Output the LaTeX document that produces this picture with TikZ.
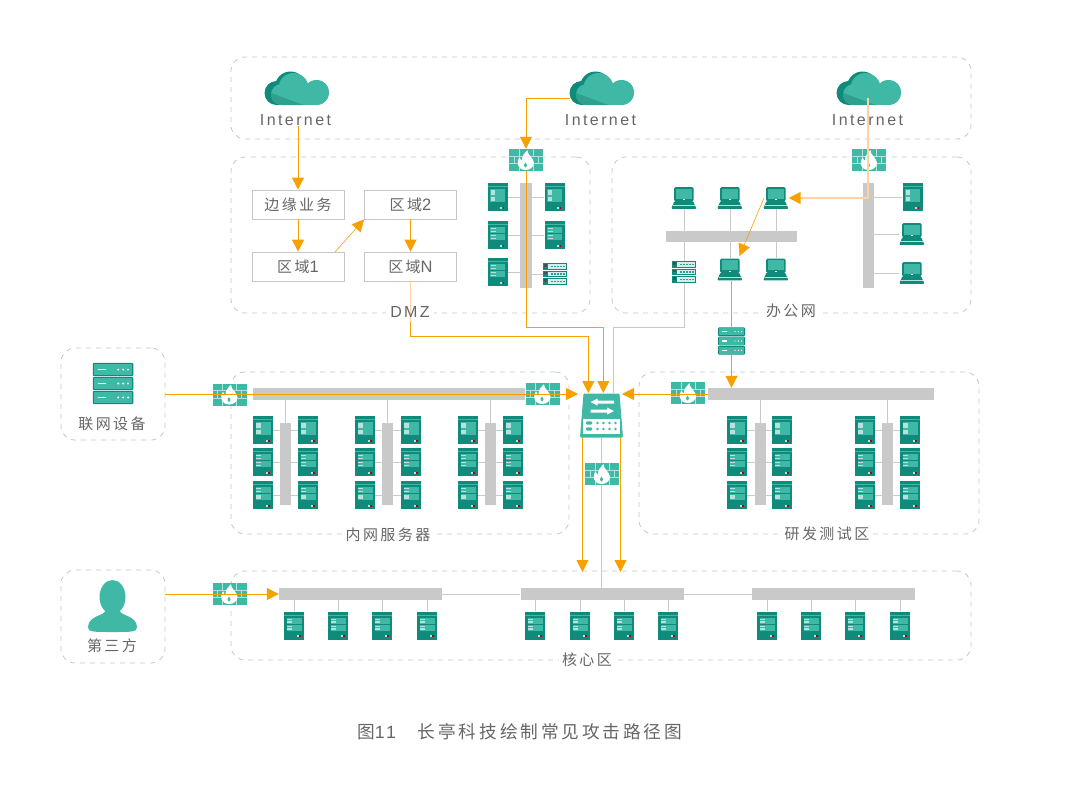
\documentclass[tikz,border=0pt]{standalone}
\usepackage{fontspec}
\usetikzlibrary{arrows.meta}
\newfontfamily\cjkfont[LetterSpace=16]{Noto Sans CJK SC}
\newfontfamily\latinfont[LetterSpace=15]{Liberation Sans}
\definecolor{tealmain}{HTML}{40B8A6}
\definecolor{tealdark}{HTML}{0F8A7B}
\definecolor{tealmid}{HTML}{2FA090}
\definecolor{tealpale}{HTML}{B8E0DC}
\definecolor{barcolor}{HTML}{C8C9C8}
\definecolor{dashcolor}{HTML}{C6C6C6}
\definecolor{attackcolor}{HTML}{F7A100}
\definecolor{attackpale}{HTML}{FDD3A3}
\definecolor{textgray}{HTML}{666666}
\newcommand{\digitfont}{\latinfont\fontsize{16.5}{18}\selectfont}
\tikzset{
  zone/.style={draw=dashcolor,line width=.8pt,dash pattern=on 5pt off 5pt,rounded corners=14pt,inner sep=0pt},
  zonetitle/.style={fill=white,inner sep=3pt,text=textgray,font=\cjkfont\fontsize{15}{18}\selectfont},
  netlabel/.style={inner sep=0pt,text=textgray,font=\latinfont\fontsize{16}{18}\selectfont},
  areabox/.style={draw=dashcolor,line width=.8pt,minimum width=92pt,minimum height=29pt,inner sep=0pt,text=textgray,font=\cjkfont\fontsize{15}{18}\selectfont},
  bar/.style={fill=barcolor,inner sep=0pt},
  link/.style={draw=barcolor,line width=.9pt},
  attack/.style={draw=attackcolor,line width=1pt},
  thinattack/.style={draw=attackcolor,line width=.6pt},
  paleattack/.style={draw=attackpale,line width=1.8pt},
  srvnode/.style={inner sep=0pt,minimum width=20pt,minimum height=28pt},
  lapnode/.style={inner sep=0pt,minimum width=25pt,minimum height=22pt},
  racknode/.style={inner sep=0pt,minimum width=24pt,minimum height=22pt},
  fwnode/.style={inner sep=0pt,minimum width=34pt,minimum height=22pt},
  % 服务器
  srvbody/.pic={
    \fill[tealdark] (-10,-14) rectangle (10,14);
    \fill[tealmain] (-10,-10.8) rectangle (10,-10);
    \fill[tealpale] (2.5,9.8) rectangle (4.5,11.6);
    \fill[red!70!black] (5,9.8) rectangle (6.8,11.6);
  },
  server/.pic={
    \pic {srvbody};
    \fill[tealmain] (-7.5,-8) rectangle (7.5,5);
    \fill[tealpale] (-6.8,-6.7) rectangle (-2.2,-2.3);
    \fill[tealpale] (-6.8,-.3) rectangle (-2.2,3.7);
  },
  serverb/.pic={
    \pic {srvbody};
    \fill[tealmain] (-7.5,-8) rectangle (7.5,-2);
    \fill[tealmain] (-7.5,-1) rectangle (7.5,5);
    \foreach \ly in {-7,-4.2,0,2.8} \fill[tealpale] (-6.8,\ly) rectangle (-2,\ly+1.3);
  },
  serverc/.pic={
    \pic {srvbody};
    \fill[tealmain] (-7.5,-8) rectangle (7.5,-2);
    \fill[tealmain] (-7.5,-1) rectangle (7.5,5);
    \foreach \ly in {-7,-4.2} \fill[tealpale] (-6.8,\ly) rectangle (-2,\ly+1.3);
    \fill[tealpale] (-6.8,0) rectangle (-2.2,4);
  },
  % 笔记本
  laptop/.pic={
    \fill[tealdark,rounded corners=1.5pt] (-10,-11) rectangle (9.5,3.5);
    \fill[tealmain] (-8.3,-9.2) rectangle (7.8,0.6);
    \fill[white] (-1.2,1.2) rectangle (.8,2.2);
    \fill[tealdark,rounded corners=1pt] (-9.5,3) -- (9,3) -- (12.5,10.8) -- (-12.8,10.8) -- cycle;
    \fill[tealpale] (-11,7.4) rectangle (10.8,8.2);
  },
  % 小机架
  rack/.pic={
    \foreach \ry in {-7.5,0,7.5} {
      \fill[tealdark] (-12,\ry-3.2) rectangle (12,\ry+3.2);
      \fill[tealpale!60] (-7,\ry-2.2) rectangle (11,\ry+2.2);
      \foreach \dx in {-4,-1,2,5,8} \fill[tealmid] (\dx,\ry-.8) rectangle (\dx+1.6,\ry+.8);
      \fill[black!70] (-11,\ry-2.2) rectangle (-8,\ry);
    }
  },
  % 三层设备
  stack/.pic={
    \foreach \ry in {-9.3,0,9.3} {
      \fill[tealdark,rounded corners=1pt] (-13.5,\ry-4.4) rectangle (13.5,\ry+4.4);
      \fill[tealmain] (-12.7,\ry-3.6) rectangle (12.7,\ry+3.6);
      \fill[white] (-10,\ry-.6) rectangle (-4.5,\ry+.6);
      \foreach \dx in {3.5,6.8,10} \fill[white] (\dx,\ry) circle (.7);
    }
  },
  % 防火墙
  firewall/.pic={
    \fill[tealmain] (-17,-11) rectangle (17,11);
    \draw[tealpale,line width=.8pt] (-17,-3.7) -- (17,-3.7) (-17,3.7) -- (17,3.7);
    \draw[tealpale,line width=.8pt] (-7,-11) -- (-7,-3.7) (7,-11) -- (7,-3.7) (-12,-3.7) -- (-12,3.7) (12,-3.7) -- (12,3.7) (-7,3.7) -- (-7,11) (7,3.7) -- (7,11);
    \fill[white] (0,10) .. controls (-9,10) and (-10,2) .. (-6.5,-3) .. controls (-6,-.5) and (-4.5,.5) .. (-4,.5) .. controls (-4.5,-4) and (-1,-7) .. (1.5,-10) .. controls (1,-5) and (8,-2) .. (8,3) .. controls (8,7) and (4,10) .. (0,10) -- cycle;
    \fill[tealmain] (-.5,7.5) .. controls (-2.5,7.5) and (-2.5,5) .. (-.5,2.5) .. controls (1.5,5) and (1.5,7.5) .. (-.5,7.5) -- cycle;
  },
  % 云
  cloud/.pic={
    \fill[tealdark] (-20,4) circle (12);
    \fill[tealdark] (-6,-2) circle (15.5);
    \fill[tealdark] (20,3.5) circle (12.5);
    \fill[tealdark] (-20,6) rectangle (20,16);
    \fill[tealmain] (-15,5.5) circle (10.5);
    \fill[tealmain] (-3,-1) circle (15);
    \fill[tealmain] (20,3.5) circle (12.5);
    \fill[tealmain] (-15,6) rectangle (20,16);
    \fill[tealmid] (-25.5,4) .. controls (-26,12) and (-20,16) .. (-14,16) -- (7,16) -- cycle;
  },
  % 交换机
  switch/.pic={
    \fill[tealmain,rounded corners=1pt] (-18,-22) -- (18,-22) -- (21.5,22) -- (-21.5,22) -- cycle;
    \fill[white] (-11,-13.5) -- (-4,-17) -- (-4,-15) -- (12.5,-15) -- (12.5,-12) -- (-4,-12) -- (-4,-10) -- cycle;
    \fill[white] (12.5,-4.5) -- (5.5,-8) -- (5.5,-6) -- (-11,-6) -- (-11,-3) -- (5.5,-3) -- (5.5,-1) -- cycle;
    \fill[white] (-18.5,3) rectangle (18.5,18.5);
    \foreach \ry in {7.5,13.5} {
      \fill[tealmain,rounded corners=1pt] (-15.5,\ry-1.6) rectangle (-9.5,\ry+1.6);
      \foreach \dx in {-4,2,8,14} \fill[tealmain] (\dx,\ry) circle (1.4);
    }
  },
  % 人像
  person/.pic={
    \fill[tealmain] (0,-9) ellipse (13 and 17);
    \fill[tealmain] (-7,4) .. controls (-7,10) and (-24,9) .. (-24.5,21) .. controls (-24.5,26) and (-20,26) .. (0,26) .. controls (20,26) and (24.5,26) .. (24.5,21) .. controls (24,9) and (7,10) .. (7,4) -- cycle;
  },
}
\begin{document}
\begin{tikzpicture}[x=1pt,y=-1pt,>={Triangle[length=12pt,width=12pt]}]
  \useasboundingbox (0,0) rectangle (1066,785);

  % 区域虚线框
  \node[zone,minimum width=740pt,minimum height=82pt] (internetzone) at (601,98) {};
  \node[zone,minimum width=359pt,minimum height=156pt] (dmzzone) at (410.5,235) {};
  \node[zone,minimum width=359pt,minimum height=156pt] (officezone) at (791.5,235) {};
  \node[zone,minimum width=338pt,minimum height=162pt] (lanzone) at (400,453) {};
  \node[zone,minimum width=340pt,minimum height=162pt] (devzone) at (809,453) {};
  \node[zone,minimum width=740pt,minimum height=89pt] (corezone) at (601,615.5) {};
  \node[zone,minimum width=104pt,minimum height=92pt] (netbox) at (113,394) {};
  \node[zone,minimum width=104pt,minimum height=93pt] (thirdbox) at (113,616.5) {};

  % 区域标题
  \node[zonetitle,minimum width=48pt,minimum height=20pt] (dmztitle) at (410,312) {};
  \node[zonetitle] (officetitle) at (791,311) {办公网};
  \node[zonetitle] (lantitle) at (388,535) {内网服务器};
  \node[zonetitle] (devtitle) at (827,534) {研发测试区};
  \node[zonetitle] (coretitle) at (587,660) {核心区};
  \node[zonetitle,fill=none] (nettitle) at (112,424) {联网设备};
  \node[zonetitle,fill=none] (thirdtitle) at (112,646) {第三方};

  % 灰色总线
  \node[bar,minimum width=12pt,minimum height=105pt] (dmzbar) at (526,235.5) {};
  \node[bar,minimum width=131pt,minimum height=11pt] (officebar) at (731.5,236.5) {};
  \node[bar,minimum width=11pt,minimum height=105pt] (officeright) at (868.5,235.5) {};
  \node[bar,minimum width=272pt,minimum height=12pt] (lanbar) at (389,394) {};
  \node[bar,minimum width=226pt,minimum height=12pt] (devbar) at (821,394) {};
  \foreach \n/\xx in {lanv1/285.5,lanv2/387.5,lanv3/490.5,devv1/760,devv2/887.5}
    \node[bar,minimum width=11pt,minimum height=82pt] (\n) at (\xx,464) {};
  \foreach \n/\xx in {corebar1/360.5,corebar2/602,corebar3/833.5}
    \node[bar,minimum width=163pt,minimum height=12pt] (\n) at (\xx,594) {};

  % 总线之间的连线
  \foreach \n in {lanv1,lanv2,lanv3} \draw[link] (\n.north) -- (\n |- lanbar);
  \foreach \n in {devv1,devv2} \draw[link] (\n.north) -- (\n |- devbar);
  \draw[link] (corebar1) -- (corebar2);
  \draw[link] (corebar2) -- (corebar3);

  % DMZ 内的服务器
  \foreach \n/\xx/\yy/\k in {da/497.5/197/server,db/554.5/197/server,dc/497.5/235/serverb,dd/554.5/235/serverb,de/497.5/272/serverb} {
    \node[srvnode] (\n) at (\xx,\yy) {};
    \pic at (\n) {\k};
    \draw[link] (\n) -- (\n -| dmzbar);
  }
  \node[racknode] (drack) at (555,274) {};
  \pic at (drack) {rack};
  \draw[link] (drack) -- (drack -| dmzbar);

  % 办公网
  \foreach \n/\xx/\yy in {oa/684/198,ob/730/198,oc/776/198,od/730/269.5,oe/776/269.5} {
    \node[lapnode] (\n) at (\xx,\yy) {};
    \pic at (\n) {laptop};
    \draw[link] (\n) -- (\n |- officebar);
  }
  \node[racknode] (orack) at (684,272) {};
  \pic at (orack) {rack};
  \draw[link] (orack) -- (orack |- officebar);
  \node[srvnode] (of) at (912.5,197) {};
  \pic at (of) {server};
  \draw[link] (of) -- (of -| officeright);
  \foreach \n/\yy in {og/234,oh/273} {
    \node[lapnode] (\n) at (912,\yy) {};
    \pic at (\n) {laptop};
    \draw[link] (\n) -- (\n -| officeright);
  }

  % 内网服务器、研发测试区
  \foreach \b/\xa/\xb in {lanv1/263/308,lanv2/365/411,lanv3/468/513,devv1/737/782,devv2/865/910}
    \foreach \yy/\k in {430/server,462/serverb,495/serverc} {
      \node[srvnode] (\b-a-\yy) at (\xa,\yy) {};
      \node[srvnode] (\b-b-\yy) at (\xb,\yy) {};
      \pic at (\b-a-\yy) {\k};
      \pic at (\b-b-\yy) {\k};
      \draw[link] (\b-a-\yy) -- (\b-a-\yy -| \b);
      \draw[link] (\b-b-\yy) -- (\b-b-\yy -| \b);
    }

  % 核心区服务器
  \foreach \b/\xa/\xb/\xc/\xd in {corebar1/294/338/382/427,corebar2/535/580/624/668,corebar3/767/811/855/900}
    \foreach \xx in {\xa,\xb,\xc,\xd} {
      \node[srvnode] (\b-\xx) at (\xx,625.5) {};
      \pic at (\b-\xx) {serverb};
      \draw[link] (\b-\xx) -- (\b-\xx |- \b);
    }

  % 云
  \foreach \n/\xx in {clouda/296.5,cloudb/601.5,cloudc/868.5} {
    \node[inner sep=0pt,minimum width=64pt,minimum height=34pt] (\n) at (\xx,89) {};
    \pic at (\n) {cloud};
    \node[netlabel] (\n-label) at (\xx-1,120) {Internet};
  }

  % 外联设备与人像
  \node[inner sep=0pt,minimum width=40pt,minimum height=43pt] (netrack) at (113,383.5) {};
  \pic[scale=1.5] at (netrack) {stack};
  \node[inner sep=0pt,minimum width=50pt,minimum height=52pt] (guest) at (112.5,606) {};
  \pic at (guest) {person};
  \node[inner sep=0pt,minimum width=27pt,minimum height=28pt] (orelay) at (731.5,341) {};
  \pic at (orelay) {stack};

  % 交换机
  \node[inner sep=0pt,minimum width=43pt,minimum height=44pt] (sw) at (601.5,415.5) {};
  \pic at (sw) {switch};
  \coordinate (swin1) at (588.3,393);
  \coordinate (swin2) at (603.3,393);
  \coordinate (swin3) at (613,393);
  \coordinate (swleft) at (578,394);
  \coordinate (swright) at (622,394);
  \coordinate (swout1) at (582.5,437);
  \coordinate (swout2) at (620.5,437);
  \coordinate (corein1) at (582.5,572);
  \coordinate (corein2) at (620.5,572);

  \draw[link] (orack.south) |- (swin3 |- 0,327) -- (swin3);
  \draw[link] (sw.south) -- (sw.south |- corebar2);

  % 防火墙
  \foreach \n/\xx/\yy in {fwa/526/160,fwb/869/160,fwc/229.5/394.5,fwd/542.5/394,fwe/688/393,fwf/602/474,fwg/229.5/594} {
    \node[fwnode] (\n) at (\xx,\yy) {};
    \pic at (\n) {firewall};
  }

  % 文字框
  \node[areabox] (edge) at (298,204.5) {边缘业务};
  \node[areabox] (area2) at (410.5,204.5) {区域{\digitfont 2}};
  \node[areabox] (area1) at (298,266.5) {区域{\digitfont 1}};
  \node[areabox] (arean) at (410.5,266.5) {区域{\digitfont N}};

  % 攻击路径
  \draw[attack,->] (clouda-label.south -| edge) -- (edge.north);
  \draw[attack,->] (edge) -- (area1);
  \coordinate (a1out) at (335,252);
  \draw[thinattack,->] (a1out) -- (area2.south west);
  \draw[attack,->] (area2) -- (arean);

  \coordinate (dmzgap) at (410.5,322);
  \draw[paleattack,line width=1pt] (arean.south) -- (dmzgap);
  \draw[attack,->] (dmzgap) -- (410.5,336) -| (swin1);
  \node[netlabel] (dmztext) at (dmztitle) {DMZ};

  \coordinate (cloudbout) at (570,98);
  \draw[attack,->] (cloudbout) -| (fwa.north);
  \draw[attack,->] (fwa.south) -- (fwa |- 0,327) -| (swin2);

  \coordinate (cloudcin) at (868,98);
  \draw[paleattack,-{Triangle[length=12pt,width=12pt,color=attackcolor]}] (cloudcin) |- (oc.east);
  \coordinate (ocout) at (764,198);
  \coordinate (odin) at (739.5,256);
  \draw[thinattack,->] (ocout) -- (odin);

  \draw[attack] (orelay.north |- od.south) -- (orelay.north);
  \draw[attack,->] (orelay.south) -- (orelay.south |- devbar.north);

  \draw[attack,->] (netbox.east) -- (swleft);
  \draw[attack,->] (devbar.west) -- (swright);
  \draw[attack,->] (swout1) -- (corein1);
  \draw[attack,->] (swout2) -- (corein2);
  \draw[attack,->] (thirdbox.east |- fwg) -- (corebar1.west);

  % 图题
  \node[anchor=west,inner sep=0pt,text=textgray,font=\cjkfont\fontsize{17.7}{20}\selectfont] (caption) at (357,732) {图{\latinfont 11}\hspace{22pt}长亭科技绘制常见攻击路径图};
\end{tikzpicture}
\end{document}
